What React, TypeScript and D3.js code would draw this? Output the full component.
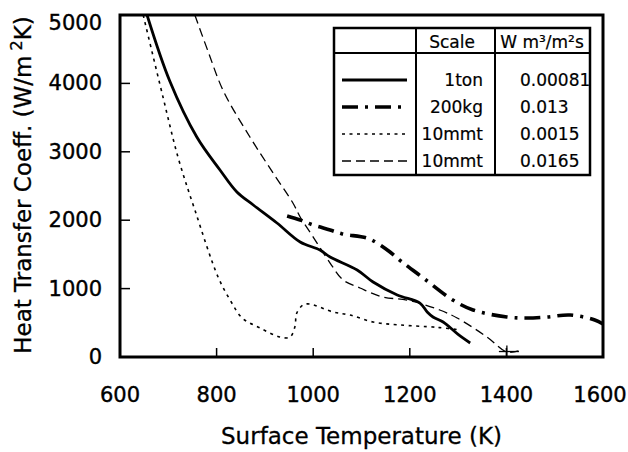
import React from "react";
import * as d3 from "d3";

const xTicks = [600, 800, 1000, 1200, 1400, 1600];
const yTicks = [0, 1000, 2000, 3000, 4000, 5000];

const ton1: [number, number][] = [
  [656, 5000], [703, 4035], [759, 3216], [807, 2734],
  [842, 2412], [876, 2222], [925, 1959], [973, 1681], [1014, 1564], [1035, 1462], [1091, 1272],
  [1124, 1096], [1174, 906], [1221, 789], [1236, 658], [1248, 585], [1269, 512], [1300, 330], [1325, 205],
];
const kg200: [number, number][] = [
  [946, 2061], [973, 2003], [1000, 1930], [1035, 1857], [1060, 1800], [1111, 1740], [1132, 1667],
  [1159, 1535], [1184, 1389], [1228, 1155], [1289, 833], [1331, 687], [1401, 585], [1443, 570],
  [1484, 585], [1532, 614], [1583, 541], [1600, 482],
];
const mmtA: [number, number][] = [
  [648, 5000], [689, 3801], [720, 2924], [755, 2149], [803, 1170], [828, 833], [853, 570],
  [890, 424], [931, 292], [952, 292], [962, 439],
  [966, 643], [979, 760], [993, 775], [1041, 658], [1076, 614], [1124, 512], [1180, 468],
  [1248, 439], [1262, 430], [1300, 400],
];
const mmtB: [number, number][] = [
  [755, 5000], [782, 4474], [814, 3889], [869, 3216], [917, 2690], [958, 2251],
  [973, 2047], [1000, 1754], [1035, 1374], [1062, 1126], [1097, 1009], [1144, 877], [1194, 833],
  [1262, 687], [1298, 570], [1360, 292], [1401, 73], [1425, 90],
];
const crossPoint: [number, number] = [1401, 80];

const legendScale = ["1ton", "200kg", "10mmt", "10mmt"];
const legendValue = ["0.00081", "0.013", "0.0015", "0.0165"];

const W = 628, H = 452;
const L = 120, R = 603, T = 15, B = 357;

export default function App() {
  const x = d3.scaleLinear().domain([600, 1600]).range([L, R]);
  const y = d3.scaleLinear().domain([0, 5000]).range([B, T]);
  const line = d3.line<[number, number]>().x(d => x(d[0])).y(d => y(d[1])).curve(d3.curveCatmullRom.alpha(0.5));

  const series = [
    { data: ton1, w: 2.8, dash: "none" },
    { data: kg200, w: 3.6, dash: "16 7 3 7" },
    { data: mmtA, w: 1.6, dash: "3 4.5" },
    { data: mmtB, w: 1.3, dash: "9 5" },
  ];

  const lg = { x0: 334, y0: 28, x1: 590, y1: 175, hy: 53, c1: 416, c2: 495 };
  const rowY = [80, 107, 134, 161];
  const font = "DejaVu Sans, sans-serif";

  return (
    <svg width={W} height={H} style={{ position: "absolute", left: 0, top: 0, background: "#fff" }}>
      <defs>
        <clipPath id="plot">
          <rect x={L} y={T} width={R - L} height={B - T} />
        </clipPath>
      </defs>
      <rect x={0} y={0} width={W} height={H} fill="#fff" />
      <g clipPath="url(#plot)">
        {series.map((s, i) => (
          <path key={i} d={line(s.data) || ""} fill="none" stroke="#000" strokeWidth={s.w}
            strokeDasharray={s.dash} strokeLinecap="butt" />
        ))}
      </g>
      <g stroke="#000" strokeWidth={1.3}>
        <line x1={x(crossPoint[0])} x2={x(crossPoint[0])} y1={y(crossPoint[1]) - 6} y2={y(crossPoint[1]) + 6} />
        <line x1={x(crossPoint[0]) - 8} x2={x(crossPoint[0]) + 12} y1={y(crossPoint[1])} y2={y(crossPoint[1])} />
      </g>
      <g stroke="#000" strokeWidth={1.5}>
        {xTicks.slice(1, -1).map(t => (
          <line key={t} x1={x(t)} x2={x(t)} y1={B} y2={B - 9} />
        ))}
        {yTicks.slice(1, -1).map(t => (
          <line key={t} x1={L} x2={L + 10} y1={y(t)} y2={y(t)} />
        ))}
      </g>
      <rect x={L} y={T} width={R - L} height={B - T} fill="none" stroke="#000" strokeWidth={3} />
      <g fontFamily={font} fontSize={21} fill="#000" stroke="#000" strokeWidth={0.4}>
        {xTicks.map(t => (
          <text key={t} x={Math.min(x(t), 600)} y={395} textAnchor="middle" dominantBaseline="central">{t}</text>
        ))}
        {yTicks.map(t => (
          <text key={t} x={102} y={Math.max(y(t), 23)} textAnchor="end" dominantBaseline="central">{t}</text>
        ))}
      </g>
      <text x={(L + R) / 2} y={444} textAnchor="middle" fontFamily={font} fontSize={23} stroke="#000" strokeWidth={0.3}>
        Surface Temperature (K)
      </text>
      <text transform={`translate(31, ${(13 + 357) / 2}) rotate(-90)`} textAnchor="middle"
        fontFamily={font} fontSize={23} stroke="#000" strokeWidth={0.3}>
        Heat Transfer Coeff. (W/m<tspan dy={-9} fontSize={16}> 2</tspan><tspan dy={9}>K)</tspan>
      </text>
      <g>
        <rect x={lg.x0} y={lg.y0} width={lg.x1 - lg.x0} height={lg.y1 - lg.y0} fill="#fff" stroke="#000" strokeWidth={2.5} />
        <line x1={lg.x0} x2={lg.x1} y1={lg.hy} y2={lg.hy} stroke="#000" strokeWidth={2} />
        <line x1={lg.c1} x2={lg.c1} y1={lg.y0} y2={lg.y1} stroke="#000" strokeWidth={2} />
        <line x1={lg.c2} x2={lg.c2} y1={lg.y0} y2={lg.y1} stroke="#000" strokeWidth={2} />
        <g fontFamily={font} fontSize={17} fill="#000" stroke="#000" strokeWidth={0.2}>
          <text x={452} y={42} textAnchor="middle" dominantBaseline="central">Scale</text>
          <text x={542} y={42} textAnchor="middle" dominantBaseline="central">W m³/m²s</text>
          {legendScale.map((s, i) => (
            <text key={i} x={483} y={rowY[i]} textAnchor="end" dominantBaseline="central">{s}</text>
          ))}
          {legendValue.map((s, i) => (
            <text key={i} x={520} y={rowY[i]} dominantBaseline="central">{s}</text>
          ))}
        </g>
        {series.map((s, i) => (
          <line key={i} x1={342} x2={407} y1={rowY[i]} y2={rowY[i]} stroke="#000"
            strokeWidth={s.w} strokeDasharray={s.dash} />
        ))}
      </g>
    </svg>
  );
}
